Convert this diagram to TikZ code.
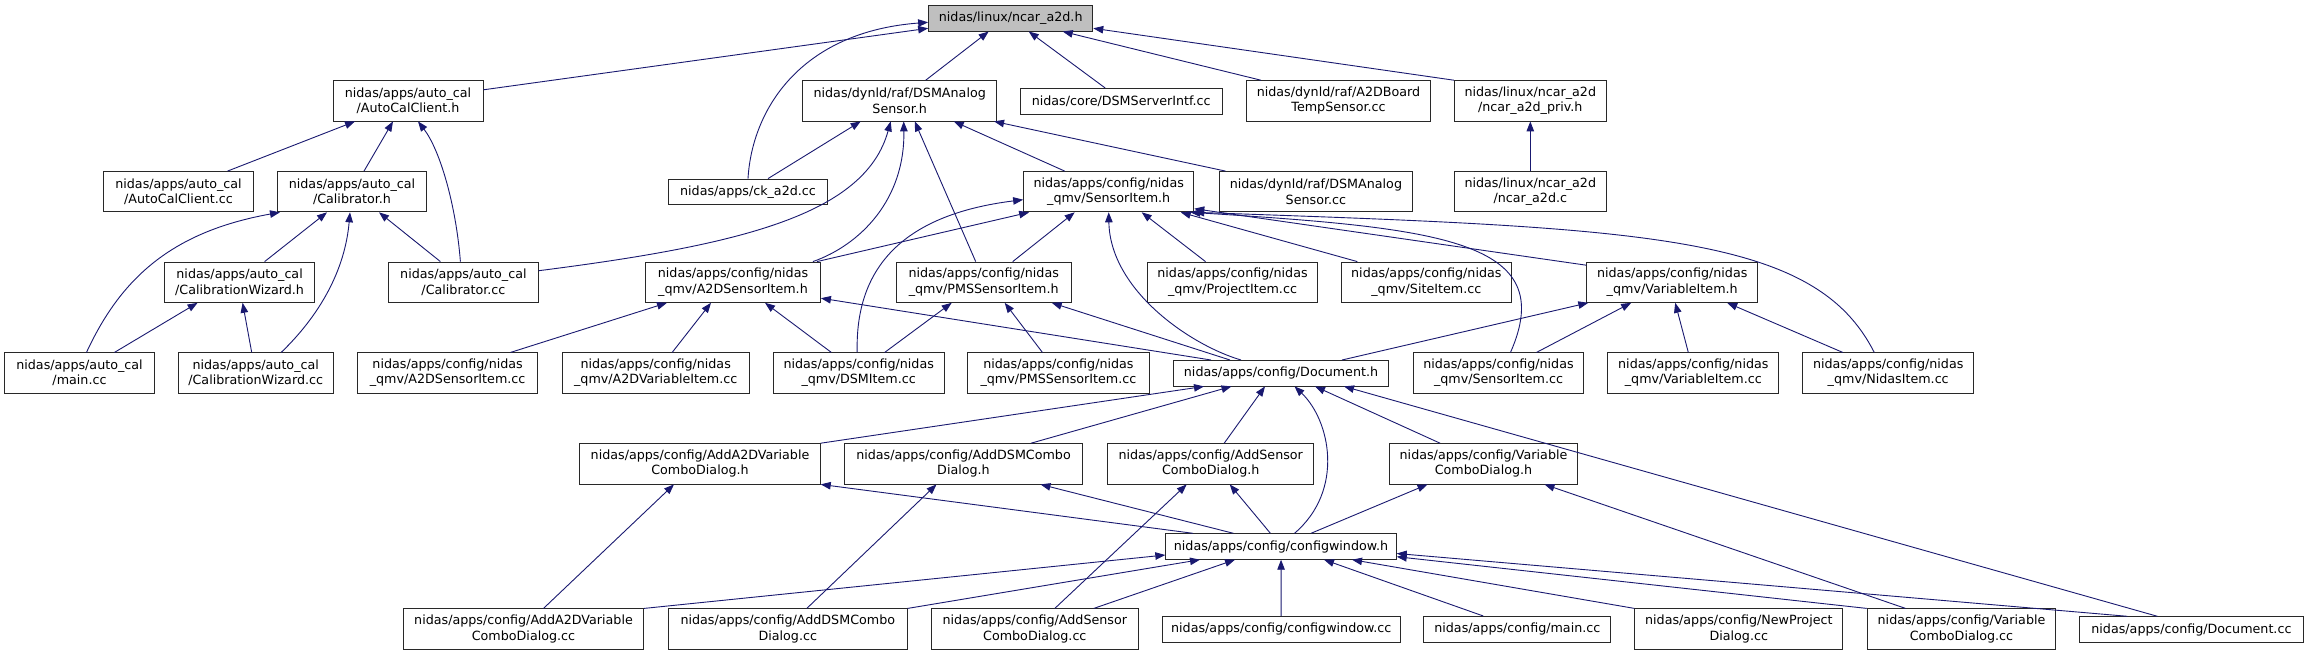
\documentclass[tikz,border=0pt]{standalone}
\usepackage{fontspec}
\setmainfont{DejaVu Sans}
\usetikzlibrary{arrows.meta}
\definecolor{edgeblue}{RGB}{25,25,112}
\definecolor{boxgray}{RGB}{191,191,191}
\definecolor{boxline}{RGB}{40,40,40}
\tikzset{
  filebox/.style={rectangle, draw=boxline, fill=white, line width=0.9pt,
    inner sep=0pt, align=center, minimum height=40.3pt,
    font=\fontsize{12.7}{15.2}\selectfont},
  onebox/.style={filebox, minimum height=25.5pt},
  topbox/.style={onebox, fill=boxgray},
  incl/.style={-{Triangle[length=10pt,width=7.5pt]}, color=edgeblue, line width=0.9pt}
}
\begin{document}
\begin{tikzpicture}[x=1pt, y=-1pt]
  \fill[white] (0,0) rectangle (2307,656);
  \useasboundingbox (0,0) rectangle (2307,656);

  % Nodes, row by row
  \node[topbox, minimum width=164.2pt] (ncar) at (1010.7,18.3) {nidas/linux/ncar\_a2d.h};

  \node[filebox, minimum width=150pt] (acch) at (408,100.8) {nidas/apps/auto\_cal\\/AutoCalClient.h};
  \node[filebox, minimum width=193.8pt] (dsmh) at (899.7,100.8) {nidas/dynld/raf/DSMAnalog\\Sensor.h};
  \node[onebox, minimum width=202.3pt] (srvcc) at (1121.2,101.2) {nidas/core/DSMServerIntf.cc};
  \node[filebox, minimum width=184.3pt] (a2dbcc) at (1338.5,100.8) {nidas/dynld/raf/A2DBoard\\TempSensor.cc};
  \node[filebox, minimum width=152pt] (privh) at (1530.3,100.8) {nidas/linux/ncar\_a2d\\/ncar\_a2d\_priv.h};

  \node[filebox, minimum width=149.8pt] (acccc) at (178.5,191.7) {nidas/apps/auto\_cal\\/AutoCalClient.cc};
  \node[filebox, minimum width=149pt] (calh) at (352,191.7) {nidas/apps/auto\_cal\\/Calibrator.h};
  \node[onebox, minimum width=159.1pt] (ckcc) at (748,191.8) {nidas/apps/ck\_a2d.cc};
  \node[filebox, minimum width=170.2pt] (sih) at (1108.7,191.7) {nidas/apps/config/nidas\\\_qmv/SensorItem.h};
  \node[filebox, minimum width=193.8pt] (dsmcc) at (1315.9,191.7) {nidas/dynld/raf/DSMAnalog\\Sensor.cc};
  \node[filebox, minimum width=152pt] (a2dc) at (1530.3,191.7) {nidas/linux/ncar\_a2d\\/ncar\_a2d.c};

  \node[filebox, minimum width=149.9pt] (cwh) at (239.6,282.2) {nidas/apps/auto\_cal\\/CalibrationWizard.h};
  \node[filebox, minimum width=149.8pt] (calcc) at (463.4,282.2) {nidas/apps/auto\_cal\\/Calibrator.cc};
  \node[filebox, minimum width=174.9pt] (a2dsih) at (733,282.2) {nidas/apps/config/nidas\\\_qmv/A2DSensorItem.h};
  \node[filebox, minimum width=174.6pt] (pmsh) at (983.7,282.2) {nidas/apps/config/nidas\\\_qmv/PMSSensorItem.h};
  \node[filebox, minimum width=169.8pt] (projcc) at (1232.5,282.2) {nidas/apps/config/nidas\\\_qmv/ProjectItem.cc};
  \node[filebox, minimum width=170.6pt] (sitecc) at (1426.3,282.2) {nidas/apps/config/nidas\\\_qmv/SiteItem.cc};
  \node[filebox, minimum width=170.9pt] (varh) at (1672.2,282.2) {nidas/apps/config/nidas\\\_qmv/VariableItem.h};

  \node[filebox, minimum width=150.2pt] (acmaincc) at (79.5,373) {nidas/apps/auto\_cal\\/main.cc};
  \node[filebox, minimum width=154.7pt] (cwcc) at (255.7,373) {nidas/apps/auto\_cal\\/CalibrationWizard.cc};
  \node[filebox, minimum width=179.8pt] (a2dsicc) at (447.6,373) {nidas/apps/config/nidas\\\_qmv/A2DSensorItem.cc};
  \node[filebox, minimum width=186.8pt] (a2dvicc) at (655.7,373) {nidas/apps/config/nidas\\\_qmv/A2DVariableItem.cc};
  \node[filebox, minimum width=170.9pt] (dsmicc) at (858.7,373) {nidas/apps/config/nidas\\\_qmv/DSMItem.cc};
  \node[filebox, minimum width=182pt] (pmscc) at (1058.4,373) {nidas/apps/config/nidas\\\_qmv/PMSSensorItem.cc};
  \node[onebox, minimum width=215.7pt] (doch) at (1281,373.2) {nidas/apps/config/Document.h};
  \node[filebox, minimum width=170.5pt] (sicc) at (1498.5,373) {nidas/apps/config/nidas\\\_qmv/SensorItem.cc};
  \node[filebox, minimum width=170.9pt] (varcc) at (1693.3,373) {nidas/apps/config/nidas\\\_qmv/VariableItem.cc};
  \node[filebox, minimum width=170.9pt] (nidcc) at (1888.2,373) {nidas/apps/config/nidas\\\_qmv/NidasItem.cc};

  \node[filebox, minimum width=240.5pt] (adda2dh) at (700,463.8) {nidas/apps/config/AddA2DVariable\\ComboDialog.h};
  \node[filebox, minimum width=238.6pt] (adddsmh) at (963.5,463.8) {nidas/apps/config/AddDSMCombo\\Dialog.h};
  \node[filebox, minimum width=206.1pt] (addsensh) at (1210.7,463.8) {nidas/apps/config/AddSensor\\ComboDialog.h};
  \node[filebox, minimum width=187.9pt] (varcdh) at (1483.5,463.8) {nidas/apps/config/Variable\\ComboDialog.h};

  \node[onebox, minimum width=230.5pt] (cfgh) at (1281,546.5) {nidas/apps/config/configwindow.h};

  \node[filebox, minimum width=240.4pt] (adda2dcc) at (523.5,629) {nidas/apps/config/AddA2DVariable\\ComboDialog.cc};
  \node[filebox, minimum width=238.6pt] (adddsmcc) at (787.8,629) {nidas/apps/config/AddDSMCombo\\Dialog.cc};
  \node[filebox, minimum width=207.1pt] (addsenscc) at (1034.8,629) {nidas/apps/config/AddSensor\\ComboDialog.cc};
  \node[onebox, minimum width=237.5pt] (cfgcc) at (1281.2,629.2) {nidas/apps/config/configwindow.cc};
  \node[onebox, minimum width=186.8pt] (cfgmaincc) at (1517.3,629.2) {nidas/apps/config/main.cc};
  \node[filebox, minimum width=207.9pt] (newprojcc) at (1738.8,629) {nidas/apps/config/NewProject\\Dialog.cc};
  \node[filebox, minimum width=188.7pt] (varcdcc) at (1961.5,629) {nidas/apps/config/Variable\\ComboDialog.cc};
  \node[onebox, minimum width=223.8pt] (doccc) at (2191.4,629.5) {nidas/apps/config/Document.cc};

  % Includes of ncar_a2d.h
  \draw[incl] ([yshift=11pt]acch.east) -- ([yshift=-10pt]ncar.west);
  \draw[incl] (ckcc.north) .. controls (752,110) and (800,32) .. ([yshift=-4pt]ncar.west);
  \draw[incl] ([xshift=26pt]dsmh.north) -- ([xshift=-22pt]ncar.south);
  \draw[incl] ([xshift=-16pt]srvcc.north) -- ([xshift=18pt]ncar.south);
  \draw[incl] ([xshift=15pt]a2dbcc.north west) -- ([xshift=52pt]ncar.south);
  \draw[incl] (privh.north west) -- ([yshift=-10pt]ncar.east);
  \draw[incl] (a2dc) -- (privh);

  % auto_cal
  \draw[incl] ([xshift=49pt]acccc.north) -- ([xshift=-53pt]acch.south);
  \draw[incl] ([xshift=12pt]calh.north) -- ([xshift=-15pt]acch.south);
  \draw[incl] ([xshift=-3pt]calcc.north) .. controls (456,205) and (440,150) .. ([xshift=10pt]acch.south);
  \draw[incl] ([xshift=7pt]acmaincc.north) .. controls (120,280) and (170,232) .. ([xshift=-72pt]calh.south);
  \draw[incl] ([xshift=25pt]cwh.north) -- ([xshift=-25pt]calh.south);
  \draw[incl] ([xshift=25.5pt]cwcc.north) .. controls (320,315) and (345,270) .. ([xshift=-2pt]calh.south);
  \draw[incl] ([xshift=-23pt]calcc.north) -- ([xshift=27pt]calh.south);
  \draw[incl] ([xshift=35pt]acmaincc.north) -- ([xshift=-42pt]cwh.south);
  \draw[incl] ([xshift=-4pt]cwcc.north) -- ([xshift=3pt]cwh.south);

  % DSMAnalogSensor.h
  \draw[incl] ([xshift=20pt]ckcc.north) -- ([xshift=-39pt]dsmh.south);
  \draw[incl] ([yshift=11.5pt]calcc.east) .. controls (740,245) and (865,215) .. ([xshift=-9pt]dsmh.south);
  \draw[incl] ([xshift=-8pt]a2dsih.north east) .. controls (860,245) and (905,200) .. ([xshift=4pt]dsmh.south);
  \draw[incl] ([xshift=-8pt]pmsh.north) -- ([xshift=15pt]dsmh.south);
  \draw[incl] ([xshift=-44pt]sih.north) -- ([xshift=54pt]dsmh.south);
  \draw[incl] ([xshift=7pt]dsmcc.north west) -- ([xshift=-3pt]dsmh.south east);

  % SensorItem.h
  \draw[incl] ([xshift=-4pt]a2dsih.north east) -- ([xshift=6pt]sih.south west);
  \draw[incl] ([xshift=-1.5pt]dsmicc.north) .. controls (855,270) and (900,215) .. ([yshift=-8pt]sih.west);
  \draw[incl] ([xshift=29pt]pmsh.north) -- ([xshift=-34pt]sih.south);
  \draw[incl] ([xshift=-40pt]doch.north) .. controls (1190,345) and (1110,290) .. (sih.south);
  \draw[incl] ([xshift=-27pt]projcc.north) -- ([xshift=33pt]sih.south);
  \draw[incl] ([xshift=-69pt]sitecc.north) -- ([xshift=72pt]sih.south);
  \draw[incl] ([yshift=17pt]varh.west) -- ([yshift=-17pt]sih.east);
  \draw[incl] ([xshift=12pt]sicc.north) .. controls (1560,240) and (1440,228) .. ([xshift=-4pt]sih.south east);
  \draw[incl] ([xshift=-14pt]nidcc.north) .. controls (1815,235) and (1650,228) .. (sih.south east);

  % VariableItem.h
  \draw[incl] ([xshift=61pt]doch.north) -- ([xshift=2pt]varh.south west);
  \draw[incl] ([xshift=38pt]sicc.north) -- ([xshift=-41pt]varh.south);
  \draw[incl] ([xshift=-5pt]varcc.north) -- ([xshift=3pt]varh.south);
  \draw[incl] ([xshift=-45.5pt]nidcc.north) -- ([xshift=55pt]varh.south);

  % A2DSensorItem.h and PMSSensorItem.h
  \draw[incl] ([xshift=63pt]a2dsicc.north) -- ([xshift=-66pt]a2dsih.south);
  \draw[incl] ([xshift=16.5pt]a2dvicc.north) -- ([xshift=-22pt]a2dsih.south);
  \draw[incl] ([xshift=-27.4pt]dsmicc.north) -- ([xshift=32pt]a2dsih.south);
  \draw[incl] ([xshift=-70pt]doch.north) -- ([yshift=-16pt]a2dsih.east);
  \draw[incl] ([xshift=26pt]dsmicc.north) -- ([xshift=-32pt]pmsh.south);
  \draw[incl] ([xshift=-16pt]pmscc.north) -- ([xshift=21pt]pmsh.south);
  \draw[incl] ([xshift=-51pt]doch.north) -- ([xshift=68pt]pmsh.south);

  % Document.h
  \draw[incl] (adda2dh.north east) -- ([xshift=-77pt]doch.south);
  \draw[incl] ([xshift=67.5pt]adddsmh.north) -- ([xshift=-49.5pt]doch.south);
  \draw[incl] ([xshift=13.5pt]addsensh.north) -- ([xshift=-16pt]doch.south);
  \draw[incl] ([xshift=13.5pt]cfgh.north) .. controls (1345,490) and (1330,420) .. ([xshift=13.5pt]doch.south);
  \draw[incl] ([xshift=51pt]varcdh.north west) -- ([xshift=34pt]doch.south);
  \draw[incl] ([xshift=-34pt]doccc.north) -- ([xshift=63pt]doch.south);

  % Dialog headers
  \draw[incl] ([xshift=-88pt]cfgh.north) -- (adda2dh.south east);
  \draw[incl] ([xshift=-47.6pt]cfgh.north) -- ([xshift=77pt]adddsmh.south);
  \draw[incl] ([xshift=-10.6pt]cfgh.north) -- ([xshift=19pt]addsensh.south);
  \draw[incl] ([xshift=30pt]cfgh.north) -- ([xshift=-56pt]varcdh.south);
  \draw[incl] ([xshift=20pt]adda2dcc.north) -- ([xshift=-26pt]adda2dh.south);
  \draw[incl] ([xshift=19pt]adddsmcc.north) -- ([xshift=-27pt]adddsmh.south);
  \draw[incl] ([xshift=20pt]addsenscc.north) -- ([xshift=-24pt]addsensh.south);
  \draw[incl] ([xshift=-56pt]varcdcc.north) -- ([xshift=61pt]varcdh.south);

  % configwindow.h
  \draw[incl] (adda2dcc.north east) -- ([yshift=-8.5pt]cfgh.west);
  \draw[incl] (adddsmcc.north east) -- ([xshift=-81pt]cfgh.south);
  \draw[incl] ([xshift=59pt]addsenscc.north) -- ([xshift=-46pt]cfgh.south);
  \draw[incl] (cfgcc) -- (cfgh);
  \draw[incl] ([xshift=-34pt]cfgmaincc.north) -- ([xshift=43pt]cfgh.south);
  \draw[incl] (newprojcc.north west) -- ([xshift=71pt]cfgh.south);
  \draw[incl] (varcdcc.north west) -- ([yshift=3pt]cfgh.south east);
  \draw[incl] ([xshift=-64pt]doccc.north) -- ([yshift=-7pt]cfgh.east);
\end{tikzpicture}
\end{document}
